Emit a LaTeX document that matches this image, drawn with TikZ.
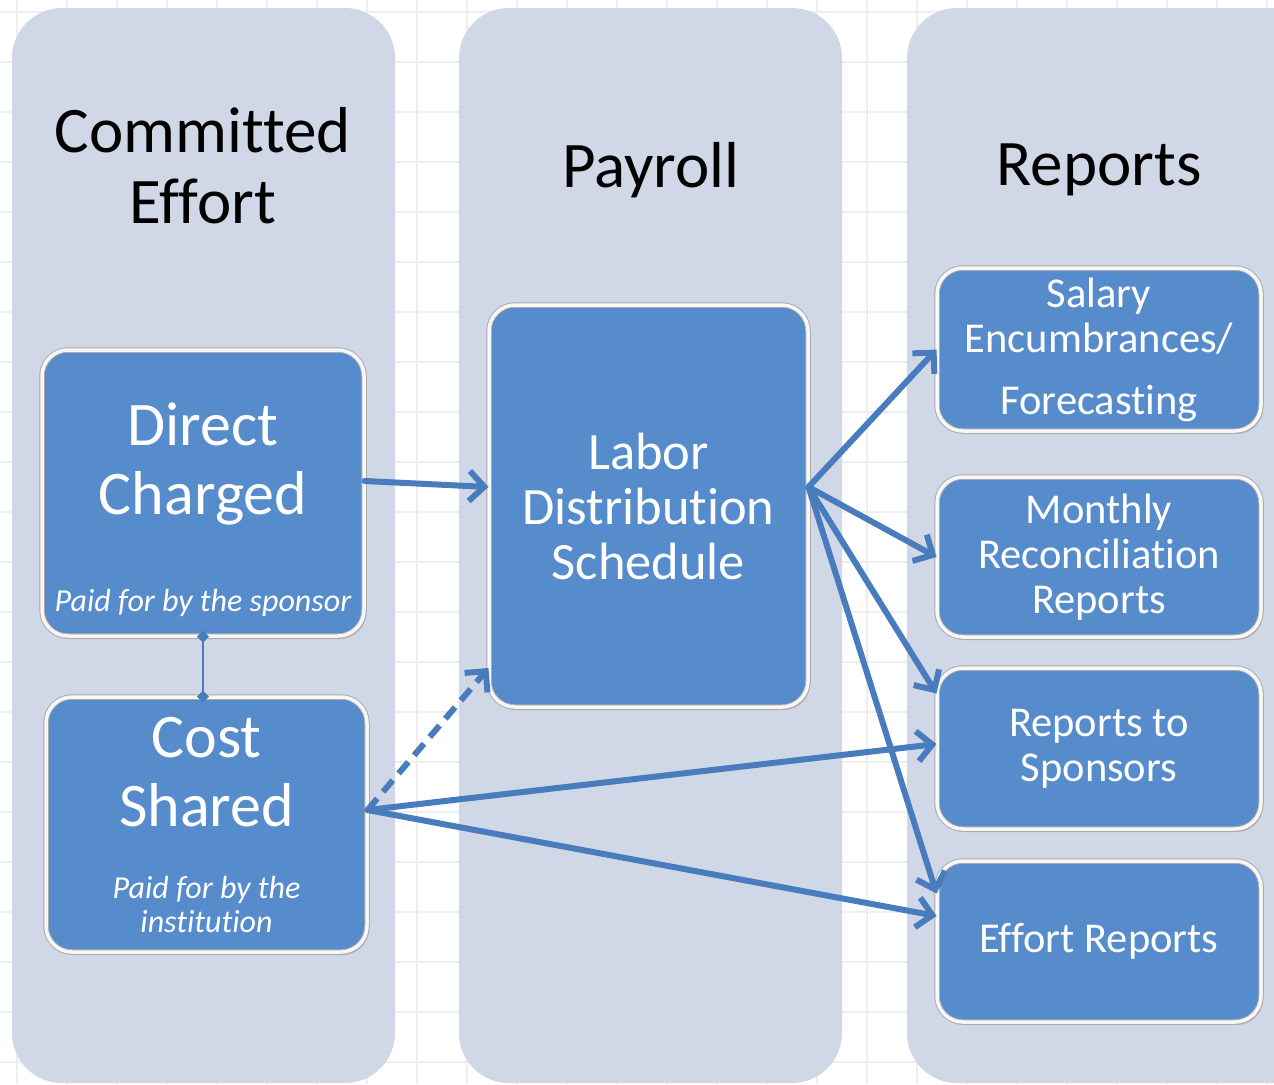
\documentclass[tikz,border=0pt]{standalone}
\usepackage{fontspec}
\setmainfont{Carlito}[Ligatures=NoCommon]
\usetikzlibrary{arrows.meta,positioning,shadows}
\tikzset{>={Straight Barb[length=15pt,width=30pt]}}
\definecolor{panelfill}{RGB}{208,216,231}
\definecolor{blockblue}{RGB}{86,139,204}
\definecolor{linkblue}{RGB}{72,124,189}
\definecolor{gridgray}{RGB}{238,238,236}

\begin{document}
\begin{tikzpicture}[x=1pt,y=-1pt,
    panel/.style={fill=panelfill, rounded corners=50pt},
    block/.style={rectangle, rounded corners=26pt, fill=blockblue,
      draw=gray!65, double=white!94!gray, double distance=3.5pt, line width=1pt,
      drop shadow={shadow xshift=2pt, shadow yshift=-3pt, opacity=0.4}},
    head/.style={align=center, font=\fontsize{65}{71}\selectfont},
    bigtext/.style={align=center, text=white, font=\fontsize{62}{69}\selectfont},
    midtext/.style={align=center, text=white, font=\fontsize{52.5}{55}\selectfont},
    smalltext/.style={align=center, text=white, font=\fontsize{42.5}{45}\selectfont},
    note/.style={align=center, text=white, font=\fontsize{32}{34}\selectfont\itshape},
    link/.style={draw=linkblue, line width=6pt, line cap=round, ->},
  ]
  % page and squared paper
  \fill[white] (0,0) rectangle (1274,1084);
  \clip (0,0) rectangle (1274,1084);
  \foreach \gx in {17,67,...,1267}
    \draw[gridgray, line width=2pt] (\gx,0) -- (\gx,1084);
  \foreach \gy in {12,62,...,1062}
    \draw[gridgray, line width=2pt] (0,\gy) -- (1274,\gy);

  % the three columns
  \fill[panel] (12,8) rectangle (395,1083);
  \fill[panel] (459,8) rectangle (842,1083);
  \fill[panel] (907,8) rectangle (1330,1083);

  \node[head] (hce) at (203,166) {Committed\\Effort};
  \node[head] (hpay) at (651,170) {Payroll};
  \node[head] (hrep) at (1099,170) {Reports};

  % left column
  \node[block, minimum width=322pt, minimum height=286pt] (dc) at (203,493) {};
  \node[bigtext] (dctext) at (203,464) {Direct\\Charged};
  \node[note] (dcnote) at (203,603) {Paid for by the sponsor};
  \node[block, minimum width=321pt, minimum height=255pt] (cs) at (206.5,824.5) {};
  \node[bigtext] (cstext) at (206.5,772) {Cost\\Shared};
  \node[note] (csnote) at (206.5,904) {Paid for by the\\institution};

  % middle column
  \node[block, midtext, minimum width=319pt, minimum height=402pt] (lds) at (648.5,506)
    {Labor\\Distribution\\Schedule};

  % right column
  \node[block, smalltext, minimum width=324pt, minimum height=163pt] (sal) at (1099,349.5)
    {Salary\\Encumbrances/\\[17pt]Forecasting};
  \node[block, smalltext, minimum width=324pt, minimum height=160pt] (mon) at (1099,557)
    {Monthly\\Reconciliation\\Reports};
  \node[block, smalltext, minimum width=324pt, minimum height=161pt] (rts) at (1099,748.5)
    {Reports to\\Sponsors};
  \node[block, smalltext, minimum width=324pt, minimum height=161pt] (eff) at (1099,941.5)
    {Effort Reports};

  % connectors
  \draw[linkblue, line width=2pt, {Diamond[length=12pt,width=12pt]}-{Diamond[length=12pt,width=12pt]},
    shorten <=-6pt, shorten >=-6pt] (dc.south) -- (dc.south |- cs.north);
  \draw[link] ([yshift=12pt]dc.east) -- ([yshift=19pt]lds.west);
  \draw[link, dash pattern=on 15pt off 9pt, line cap=butt] ([yshift=14.5pt]cs.east) -- ([yshift=-162pt]lds.west);
  \draw[link] ([yshift=19pt]lds.east) -- (sal.west);
  \draw[link] ([yshift=19pt]lds.east) -- (mon.west);
  \draw[link] ([yshift=19pt]lds.east) -- ([yshift=55pt]rts.west);
  \draw[link] ([yshift=19pt]lds.east) -- ([yshift=48pt]eff.west);
  \draw[link] ([yshift=14.5pt]cs.east) -- ([yshift=4.5pt]rts.west);
  \draw[link] ([yshift=14.5pt]cs.east) -- ([yshift=25.5pt]eff.west);
\end{tikzpicture}
\end{document}
